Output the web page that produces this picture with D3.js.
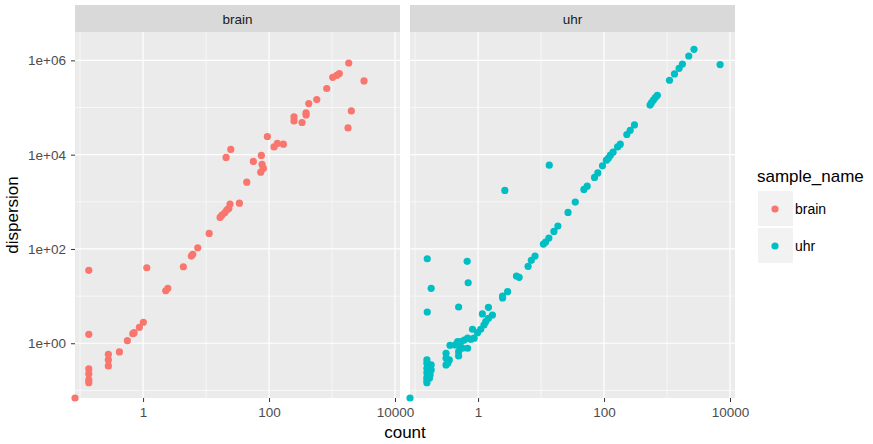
<html>
<head>
<meta charset="utf-8">
<script src="https://d3js.org/d3.v7.min.js"></script>
<style>
body { margin: 0; background: #ffffff; }
text { font-family: "Liberation Sans", Arial, Helvetica, sans-serif; }
</style>
</head>
<body>
<div id="chart"></div>
<script>
// facet names and colours
var sampleNames = ["brain", "uhr"];
var sampleColors = ["#F8766D", "#00BFC4"];

// brain: count / dispersion
var brainCount = [1841, 3220, 1306, 1188, 1026, 824, 2025, 1795, 572, 427, 387, 387, 249, 249, 334,
  94, 169, 135.5, 120, 24.7, 20.8, 75.5, 56.3, 77.4, 81.2, 73.8, 44.3, 33.8, 24, 22.9, 21.3, 19.8,
  17.9, 16.7, 11.2, 7.38, 6.15, 5.84, 4.36, 1.145, 0.1375, 2.47, 2.29, 1.01, 0.874, 0.72, 0.687,
  0.563, 0.421, 0.1375, 0.281, 0.281, 0.281, 0.1375, 0.1375, 0.1375, 0.1375, 0];
var brainDispersion = [881000, 366000, 525000, 483000, 438000, 253000, 84700, 37000, 147700, 121600,
  76900, 69700, 63200, 52000, 48100, 24300, 16700, 17300, 14600, 12900, 8730, 9620, 7180, 6200, 5100,
  4260, 2610, 938, 894, 725, 667, 585, 523, 467, 214, 106, 76.9, 70.8, 42, 40, 35.2, 14.6, 13, 2.79,
  2.18, 1.68, 1.6, 1.135, 0.654, 1.55, 0.585, 0.443, 0.331, 0.285, 0.224, 0.167, 0.146, 0];

// uhr: count / dispersion
var uhrCount = [2680, 2213, 1754, 1556, 1313, 1094, 6960, 701, 652, 606, 564, 538, 304, 260, 230,
  181, 164, 139, 126, 117, 109, 94.4, 79.6, 70.6, 54, 47.9, 34.9, 26.8, 13.5, 2.66, 18.5, 16, 13.3,
  11.8, 10.9, 8.02, 7.01, 6.22, 4.49, 4.07, 2.94, 2.45, 2.45, 0.671, 0.696, 0.491, 0.156, 0.18,
  0.156, 1.46, 1.69, 1.17, 1.46, 1.32, 1.24, 1.1, 0.98, 0.816, 0.865, 0.767, 0.681, 0.602, 0.534,
  0.474, 0.434, 0.358, 0.515, 0.568, 0.681, 0.491, 0.491, 0.31, 0.31, 0.349, 0.33, 0.31, 0.154,
  0.154, 0.18, 0.154, 0.18, 0.154, 0.173, 0.154, 0.169, 0.154, 0.154, 0];
var uhrDispersion = [1720000, 1240000, 839000, 680000, 515000, 379000, 815000, 182000, 163000,
  143000, 125000, 113000, 42800, 33000, 26800, 16700, 14600, 11300, 9750, 8430, 7640, 5790, 4110,
  3290, 2150, 1830, 986, 596, 5990, 1745, 306, 236, 170, 140, 127, 70.7, 57.3, 42.8, 25, 26.7, 12.4,
  10, 9.12, 54.6, 19.2, 5.88, 62, 14.6, 4.6, 5.79, 3.98, 4.18, 3.39, 2.87, 2.44, 1.98, 1.68, 1.98,
  1.28, 1.22, 1.28, 1.17, 1.08, 1.08, 0.92, 0.907, 0.847, 0.784, 0.784, 0.664, 0.538, 0.614, 0.481,
  0.443, 0.377, 0.347, 0.443, 0.377, 0.347, 0.295, 0.272, 0.238, 0.213, 0.19, 0.181, 0.167, 0.146, 0];

var xTicks = [1, 100, 10000];
var xMinor = [0.1, 10, 1000];
var yTicks = [1, 100, 10000, 1000000];
var yMinor = [0.1, 10, 1000, 100000];
var yTickLabels = ["1e+00", "1e+02", "1e+04", "1e+06"];

var width = 873, height = 444;
var panelW = 325, panelTop = 32, panelBottom = 398;
var panelLefts = [75, 410];
var tickFont = "13.5px";

var svg = d3.select("#chart").append("svg")
  .attr("width", width)
  .attr("height", height);

var y = d3.scaleLog().domain([0.069, 4000000]).range([panelBottom, panelTop]);

var series = [
  {name: sampleNames[0], color: sampleColors[0], xs: brainCount, ys: brainDispersion},
  {name: sampleNames[1], color: sampleColors[1], xs: uhrCount, ys: uhrDispersion}
];

series.forEach(function(s, i) {
  var left = panelLefts[i];
  var x = d3.scaleLog().domain([0.083, 12000]).range([left, left + panelW]);
  // zero values go to the panel edge, like -Inf in ggplot
  var px = function(v) { return v > 0 ? x(v) : x.range()[0]; };
  var py = function(v) { return v > 0 ? y(v) : y.range()[0]; };

  // strip
  svg.append("rect")
    .attr("x", left).attr("y", 5)
    .attr("width", panelW).attr("height", panelTop - 5)
    .attr("fill", "#D9D9D9");
  svg.append("text")
    .attr("x", left + panelW / 2).attr("y", 23.5)
    .attr("text-anchor", "middle")
    .attr("font-size", tickFont)
    .attr("fill", "#1A1A1A")
    .text(s.name);

  // panel
  svg.append("rect")
    .attr("x", left).attr("y", panelTop)
    .attr("width", panelW).attr("height", panelBottom - panelTop)
    .attr("fill", "#EBEBEB");

  var g = svg.append("g");
  g.selectAll(".xminor").data(xMinor).enter().append("line")
    .attr("x1", x).attr("x2", x).attr("y1", panelTop).attr("y2", panelBottom)
    .attr("stroke", "#fff").attr("stroke-width", 0.6);
  g.selectAll(".yminor").data(yMinor).enter().append("line")
    .attr("x1", left).attr("x2", left + panelW).attr("y1", y).attr("y2", y)
    .attr("stroke", "#fff").attr("stroke-width", 0.6);
  g.selectAll(".xmajor").data(xTicks).enter().append("line")
    .attr("x1", x).attr("x2", x).attr("y1", panelTop).attr("y2", panelBottom)
    .attr("stroke", "#fff").attr("stroke-width", 1.2);
  g.selectAll(".ymajor").data(yTicks).enter().append("line")
    .attr("x1", left).attr("x2", left + panelW).attr("y1", y).attr("y2", y)
    .attr("stroke", "#fff").attr("stroke-width", 1.2);

  // points
  var pts = s.xs.map(function(v, k) { return [v, s.ys[k]]; });
  svg.append("g").selectAll("circle").data(pts).enter().append("circle")
    .attr("cx", function(d) { return px(d[0]); })
    .attr("cy", function(d) { return py(d[1]); })
    .attr("r", 3.6)
    .attr("fill", s.color);

  // x axis
  var xa = svg.append("g")
    .attr("transform", "translate(0," + panelBottom + ")")
    .call(d3.axisBottom(x).tickValues(xTicks).tickFormat(d3.format("d")).tickSize(4).tickPadding(5));
  xa.select(".domain").remove();
  xa.selectAll("line").attr("stroke", "#333");
  xa.selectAll("text").attr("font-size", tickFont).attr("fill", "#4D4D4D")
    .style("font-family", "Liberation Sans, Arial, sans-serif");
});

// y axis (left panel only)
var ya = svg.append("g")
  .attr("transform", "translate(" + panelLefts[0] + ",0)")
  .call(d3.axisLeft(y).tickValues(yTicks).tickFormat(function(d, i) { return yTickLabels[i]; })
    .tickSize(4).tickPadding(5));
ya.select(".domain").remove();
ya.selectAll("line").attr("stroke", "#333");
ya.selectAll("text").attr("font-size", tickFont).attr("fill", "#4D4D4D")
  .style("font-family", "Liberation Sans, Arial, sans-serif");

// axis titles
svg.append("text")
  .attr("x", (panelLefts[0] + panelLefts[1] + panelW) / 2).attr("y", 437.5)
  .attr("text-anchor", "middle").attr("font-size", "17px").attr("fill", "#000")
  .text("count");
svg.append("text")
  .attr("transform", "translate(17.5," + ((panelTop + panelBottom) / 2) + ") rotate(-90)")
  .attr("text-anchor", "middle").attr("font-size", "17px").attr("fill", "#000")
  .text("dispersion");

// legend
var legend = svg.append("g").attr("transform", "translate(757,0)");
legend.append("text")
  .attr("x", 0).attr("y", 182)
  .attr("font-size", "17px").attr("fill", "#000")
  .text("sample_name");
sampleNames.forEach(function(n, i) {
  var top = 191 + i * 37;
  legend.append("rect")
    .attr("x", 1).attr("y", top).attr("width", 35).attr("height", 35)
    .attr("fill", "#F2F2F2");
  legend.append("circle")
    .attr("cx", 18).attr("cy", top + 18).attr("r", 3.6)
    .attr("fill", sampleColors[i]);
  legend.append("text")
    .attr("x", 38).attr("y", top + 22.5)
    .attr("font-size", "14px").attr("fill", "#000")
    .text(n);
});
</script>
</body>
</html>
